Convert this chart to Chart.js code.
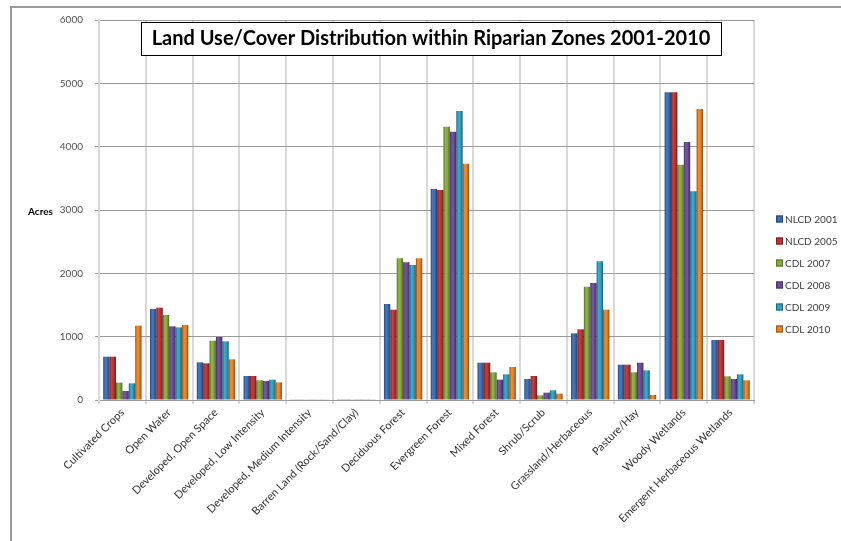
<!DOCTYPE html>
<html>
<head>
<meta charset="utf-8">
<script src="https://cdn.jsdelivr.net/npm/chart.js@4.4.1/dist/chart.umd.min.js"></script>
<style>
  html, body { margin: 0; padding: 0; background: #ffffff; }
  #wrap { position: relative; width: 841px; height: 541px; }
</style>
</head>
<body>
<div id="wrap"><canvas id="chart" width="841" height="541"></canvas></div>
<script>
// Land use / cover classes along the x axis
const categories = [
  'Cultivated Crops', 'Open Water', 'Developed, Open Space', 'Developed, Low Intensity',
  'Developed, Medium Intensity', 'Barren Land (Rock/Sand/Clay)', 'Deciduous Forest',
  'Evergreen Forest', 'Mixed Forest', 'Shrub/Scrub', 'Grassland/Herbaceous',
  'Pasture/Hay', 'Woody Wetlands', 'Emergent Herbaceous Wetlands'
];

// Acres per class for each survey year
const nlcd2001 = [684, 1437, 595, 379, 5, 4, 1516, 3332, 589, 332, 1053, 558, 4858, 947];
const nlcd2005 = [684, 1458, 579, 379, 5, 4, 1426, 3316, 589, 379, 1116, 558, 4858, 947];
const cdl2007  = [274, 1342, 937, 311, 5, 4, 2237, 4316, 437,  74, 1789, 437, 3716, 374];
const cdl2008  = [142, 1163, 995, 300, 5, 4, 2174, 4237, 321, 116, 1847, 589, 4074, 332];
const cdl2009  = [263, 1147, 926, 321, 5, 4, 2132, 4563, 405, 153, 2189, 468, 3295, 405];
const cdl2010  = [1174, 1184, 642, 279, 5, 4, 2237, 3732, 521, 100, 1426, 79, 4595, 311];

const seriesNames = ['NLCD 2001', 'NLCD 2005', 'CDL 2007', 'CDL 2008', 'CDL 2009', 'CDL 2010'];
const seriesValues = [nlcd2001, nlcd2005, cdl2007, cdl2008, cdl2009, cdl2010];
const seriesColors = ['#3a6db5', '#c0312f', '#86ac3c', '#6c4b98', '#2fa2c5', '#ec8122'];

// y axis range
const yMin = 0, yMax = 6000, yStep = 1000;

const chartTitle = 'Land Use/Cover Distribution within Riparian Zones 2001-2010';
const yAxisName = 'Acres';

function shade(hex, f) {
  const n = parseInt(hex.slice(1), 16);
  let r = (n >> 16) & 255, g = (n >> 8) & 255, b = n & 255;
  if (f < 1) { r *= f; g *= f; b *= f; }
  else { r += (255 - r) * (f - 1); g += (255 - g) * (f - 1); b += (255 - b) * (f - 1); }
  return 'rgb(' + Math.round(r) + ',' + Math.round(g) + ',' + Math.round(b) + ')';
}

// Gives each bar a rounded, cylinder-like horizontal shading
const barShading = {
  id: 'barShading',
  beforeDatasetsDraw(chart) {
    const ctx = chart.ctx;
    chart.data.datasets.forEach((ds, di) => {
      const meta = chart.getDatasetMeta(di);
      const base = seriesColors[di];
      meta.data.forEach(bar => {
        const p = bar.getProps(['x', 'width'], true);
        const left = p.x - p.width / 2, right = p.x + p.width / 2;
        const g = ctx.createLinearGradient(left, 0, right, 0);
        g.addColorStop(0, shade(base, 0.62));
        g.addColorStop(0.3, shade(base, 1.08));
        g.addColorStop(0.6, base);
        g.addColorStop(1, shade(base, 0.6));
        bar.options = Object.assign({}, bar.options, { backgroundColor: g });
      });
    });
  }
};

// Frame, title box, axis name and legend
const decorations = {
  id: 'decorations',
  afterDraw(chart) {
    const ctx = chart.ctx;
    ctx.save();
    // outer frame (top and left edges)
    ctx.strokeStyle = '#9a9a9a';
    ctx.lineWidth = 2;
    ctx.beginPath();
    ctx.moveTo(11, 541);
    ctx.lineTo(11, 7);
    ctx.lineTo(841, 7);
    ctx.stroke();

    // title box
    ctx.fillStyle = '#ffffff';
    ctx.fillRect(141, 22, 580, 33);
    ctx.strokeStyle = '#000000';
    ctx.lineWidth = 1;
    ctx.strokeRect(141.5, 22.5, 580, 33);
    ctx.fillStyle = '#000000';
    ctx.font = 'bold 20px Lato';
    ctx.textAlign = 'center';
    ctx.textBaseline = 'middle';
    ctx.fillText(chartTitle, 431, 39);

    // axis name
    ctx.font = 'bold 10px Lato';
    ctx.textAlign = 'left';
    ctx.fillStyle = '#000000';
    ctx.fillText(yAxisName, 28, 212);

    // legend
    ctx.font = '10px Lato';
    ctx.textBaseline = 'middle';
    chart.data.datasets.forEach((ds, i) => {
      const y = 219 + i * 22;
      const c = seriesColors[i];
      ctx.fillStyle = c;
      ctx.fillRect(776, y - 3.5, 7, 7);
      ctx.strokeStyle = shade(c, 0.65);
      ctx.strokeRect(776.5, y - 3, 6, 6);
      ctx.fillStyle = '#404040';
      ctx.fillText(ds.label, 785, y + 0.5);
    });
    ctx.restore();
  }
};

new Chart(document.getElementById('chart'), {
  type: 'bar',
  data: {
    labels: categories,
    datasets: seriesNames.map((name, i) => ({
      label: name,
      data: seriesValues[i],
      backgroundColor: seriesColors[i],
      borderWidth: 0,
      categoryPercentage: 0.82,
      barPercentage: 1.0
    }))
  },
  options: {
    responsive: false,
    animation: false,
    layout: { padding: { left: 0, top: 20, right: 87, bottom: 0 } },
    plugins: {
      legend: { display: false },
      title: { display: false },
      tooltip: { enabled: false }
    },
    scales: {
      x: {
        afterFit(scale) { scale.height = 141; },
        grid: { offset: true, color: '#d9d9d9', lineWidth: 2, tickLength: 4, drawTicks: true },
        border: { color: '#9a9a9a', width: 1 },
        ticks: {
          autoSkip: false, maxRotation: 45, minRotation: 45,
          color: '#333333', font: { family: 'Lato', size: 11 }, padding: 2
        }
      },
      y: {
        min: yMin, max: yMax,
        afterFit(scale) { scale.width = 99; },
        grid: { color: '#9a9a9a', lineWidth: 1, tickLength: 4 },
        border: { color: '#d9d9d9', width: 2 },
        ticks: {
          stepSize: yStep, color: '#555555',
          font: { family: 'Lato', size: 10 }, padding: 12,
          callback: v => String(v)
        }
      }
    }
  },
  plugins: [barShading, decorations]
});
</script>
</body>
</html>
